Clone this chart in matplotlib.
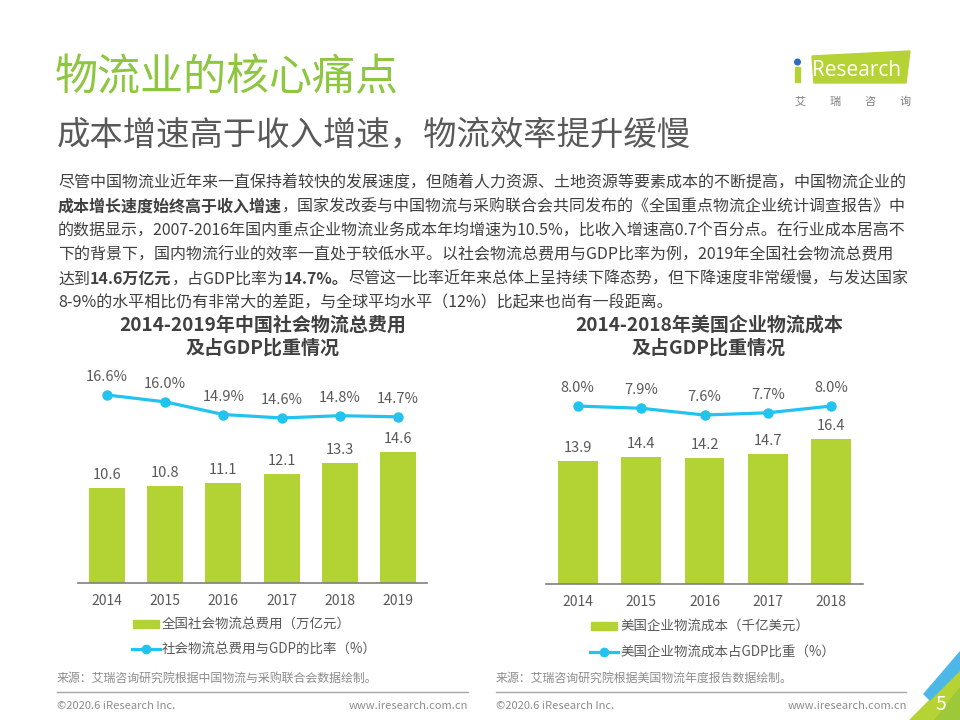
import numpy as np
import matplotlib
matplotlib.use('Agg')
import matplotlib.pyplot as plt
from matplotlib.patches import Polygon, Rectangle, Circle
from matplotlib.lines import Line2D

plt.rcParams['font.family'] = ['Noto Sans CJK SC', 'DejaVu Sans']

# chart data
cn_years = ['2014', '2015', '2016', '2017', '2018', '2019']
cn_cost = [10.6, 10.8, 11.1, 12.1, 13.3, 14.6]      # 万亿元
cn_ratio = [16.6, 16.0, 14.9, 14.6, 14.8, 14.7]     # %

us_years = ['2014', '2015', '2016', '2017', '2018']
us_cost = [13.9, 14.4, 14.2, 14.7, 16.4]            # 千亿美元
us_ratio = [8.0, 7.9, 7.6, 7.7, 8.0]                # %

GREEN = '#b3d234'
BLUE = '#22c3ef'
TXT = '#404040'
GRAY = '#595959'

body_lines = [
    [("尽管中国物流业近年来一直保持着较快的发展速度，但随着人力资源、土地资源等要素成本的不断提高，中国物流企业的", False)],
    [("成本增长速度始终高于收入增速", True),
     ("，国家发改委与中国物流与采购联合会共同发布的《全国重点物流企业统计调查报告》中", False)],
    [("的数据显示，2007-2016年国内重点企业物流业务成本年均增速为10.5%，比收入增速高0.7个百分点。在行业成本居高不", False)],
    [("下的背景下，国内物流行业的效率一直处于较低水平。以社会物流总费用与GDP比率为例，2019年全国社会物流总费用", False)],
    [("达到", False), ("14.6万亿元", True), ("，占GDP比率为", False), ("14.7%。", True),
     ("尽管这一比率近年来总体上呈持续下降态势，但下降速度非常缓慢，与发达国家", False)],
    [("8-9%的水平相比仍有非常大的差距，与全球平均水平（12%）比起来也尚有一段距离。", False)],
]

fig = plt.figure(figsize=(9.6, 7.2), dpi=100)

# background axes in pixel units (y down)
bg = fig.add_axes([0, 0, 1, 1])
bg.set_xlim(0, 960)
bg.set_ylim(720, 0)
bg.axis('off')

# titles
bg.text(55, 78, "物流业的核心痛点", fontsize=31, color='#8dc63f', va='center', ha='left')
bg.text(57, 135, "成本增速高于收入增速，物流效率提升缓慢", fontsize=24, color=GRAY, va='center', ha='left')

# logo
bg.add_patch(Polygon([(812, 56), (910, 51), (906, 83), (814, 83)], closed=True, color='#b5d334'))
bg.add_patch(Rectangle((795, 67), 5, 15, color='#b5d334'))
bg.add_patch(Circle((797.5, 62), 2.8, color='#2a6ebb'))
bg.text(812, 70, "Research", fontsize=15, color='white', va='center', ha='left', family=['Open Sans', 'DejaVu Sans'])
for i, ch in enumerate("艾瑞咨询"):
    bg.text(800 + i * 35, 102, ch, fontsize=8, color='#7f7f7f', va='center', ha='center')

# body text with bold segments
renderer = fig.canvas.get_renderer()
for k, parts in enumerate(body_lines):
    x = 58
    y = 183 + k * 24
    for txt, bold in parts:
        t = bg.text(x, y, txt, fontsize=11.5, color=TXT, va='center', ha='left',
                    fontweight='bold' if bold else 'normal')
        x += t.get_window_extent(renderer=renderer).width


def draw_chart(rect, years, cost, ratio, y1max, y2lim, barw):
    ax = fig.add_axes(rect)
    ax.set_facecolor('none')
    x = np.arange(len(years))
    ax.bar(x, cost, width=barw, color=GREEN, zorder=2)
    ax.set_xlim(-0.5, len(years) - 0.5)
    ax.set_ylim(0, y1max)
    for sp in ['left', 'right', 'top']:
        ax.spines[sp].set_visible(False)
    ax.spines['bottom'].set_color('#7f7f7f')
    ax.spines['bottom'].set_linewidth(1.2)
    ax.set_yticks([])
    ax.set_xticks(x)
    ax.set_xticklabels(years, fontsize=10, color=GRAY)
    ax.tick_params(axis='x', length=0, pad=8)
    for xi, v in zip(x, cost):
        ax.annotate(f'{v:.1f}', (xi, v), xytext=(0, 6), textcoords='offset pixels',
                    ha='center', va='bottom', fontsize=10.5, color=GRAY)
    ax2 = ax.twinx()
    ax2.plot(x, ratio, color=BLUE, lw=2.3, marker='o', ms=6.5, zorder=3)
    ax2.set_ylim(*y2lim)
    ax2.axis('off')
    for xi, v in zip(x, ratio):
        ax2.annotate(f'{v:.1f}%', (xi, v), xytext=(0, 11), textcoords='offset pixels',
                     ha='center', va='bottom', fontsize=10.5, color=GRAY)
    return ax


# left chart: China
draw_chart([78 / 960, (720 - 583) / 720, 349 / 960, 213 / 720],
           cn_years, cn_cost, cn_ratio, 213 / 9.0, (0.25, 0.25 + 213 / 11.5), 0.62)
# right chart: USA
draw_chart([546 / 960, (720 - 584) / 720, 317 / 960, 214 / 720],
           us_years, us_cost, us_ratio, 214 / 8.85, (0.09, 0.09 + 214 / 22.5), 0.63)

# chart titles
bg.text(263, 325, "2014-2019年中国社会物流总费用", fontsize=13.7, fontweight='bold', color=TXT, ha='center', va='center')
bg.text(263, 348, "及占GDP比重情况", fontsize=13.7, fontweight='bold', color=TXT, ha='center', va='center')
bg.text(709, 325, "2014-2018年美国企业物流成本", fontsize=13.7, fontweight='bold', color=TXT, ha='center', va='center')
bg.text(709, 348, "及占GDP比重情况", fontsize=13.7, fontweight='bold', color=TXT, ha='center', va='center')

# legends
bg.add_patch(Rectangle((133, 620), 26, 8, color=GREEN))
bg.text(162, 624, "全国社会物流总费用（万亿元）", fontsize=9.7, color=GRAY, va='center', ha='left')
bg.add_line(Line2D([132, 160], [649, 649], color=BLUE, lw=2.3))
bg.plot([146], [649], marker='o', ms=6, color=BLUE)
bg.text(162, 649, "社会物流总费用与GDP的比率（%）", fontsize=9.7, color=GRAY, va='center', ha='left')

bg.add_patch(Rectangle((591, 622), 26, 8, color=GREEN))
bg.text(620, 626, "美国企业物流成本（千亿美元）", fontsize=9.7, color=GRAY, va='center', ha='left')
bg.add_line(Line2D([590, 618], [652, 652], color=BLUE, lw=2.3))
bg.plot([604], [652], marker='o', ms=6, color=BLUE)
bg.text(620, 652, "美国企业物流成本占GDP比重（%）", fontsize=9.7, color=GRAY, va='center', ha='left')

# sources and footers
bg.text(57, 678, "来源：艾瑞咨询研究院根据中国物流与采购联合会数据绘制。", fontsize=8.6, color='#8c8c8c', va='center', ha='left')
bg.text(496, 678, "来源：艾瑞咨询研究院根据美国物流年度报告数据绘制。", fontsize=8.6, color='#8c8c8c', va='center', ha='left')
bg.add_line(Line2D([57, 468], [692, 692], color='#a6a6a6', lw=1))
bg.add_line(Line2D([496, 906], [692, 692], color='#a6a6a6', lw=1))
bg.text(57, 706, "©2020.6 iResearch Inc.", fontsize=8, color='#8c8c8c', va='center', ha='left')
bg.text(468, 706, "www.iresearch.com.cn", fontsize=8, color='#8c8c8c', va='center', ha='right')
bg.text(496, 706, "©2020.6 iResearch Inc.", fontsize=8, color='#8c8c8c', va='center', ha='left')
bg.text(907, 706, "www.iresearch.com.cn", fontsize=8, color='#8c8c8c', va='center', ha='right')

# corner decoration
bg.add_patch(Polygon([(910, 720), (960, 670), (960, 720)], closed=True, color='#b5d334'))
bg.add_patch(Polygon([(935, 720), (960, 688), (960, 720)], closed=True, color='#9cc83a'))
bg.add_patch(Polygon([(924, 694), (960, 652), (960, 670), (930, 700)], closed=True, color='#4db8e8'))
bg.text(941, 705, "5", fontsize=14, color='white', va='center', ha='center')

fig.savefig('out.png', dpi=100)
